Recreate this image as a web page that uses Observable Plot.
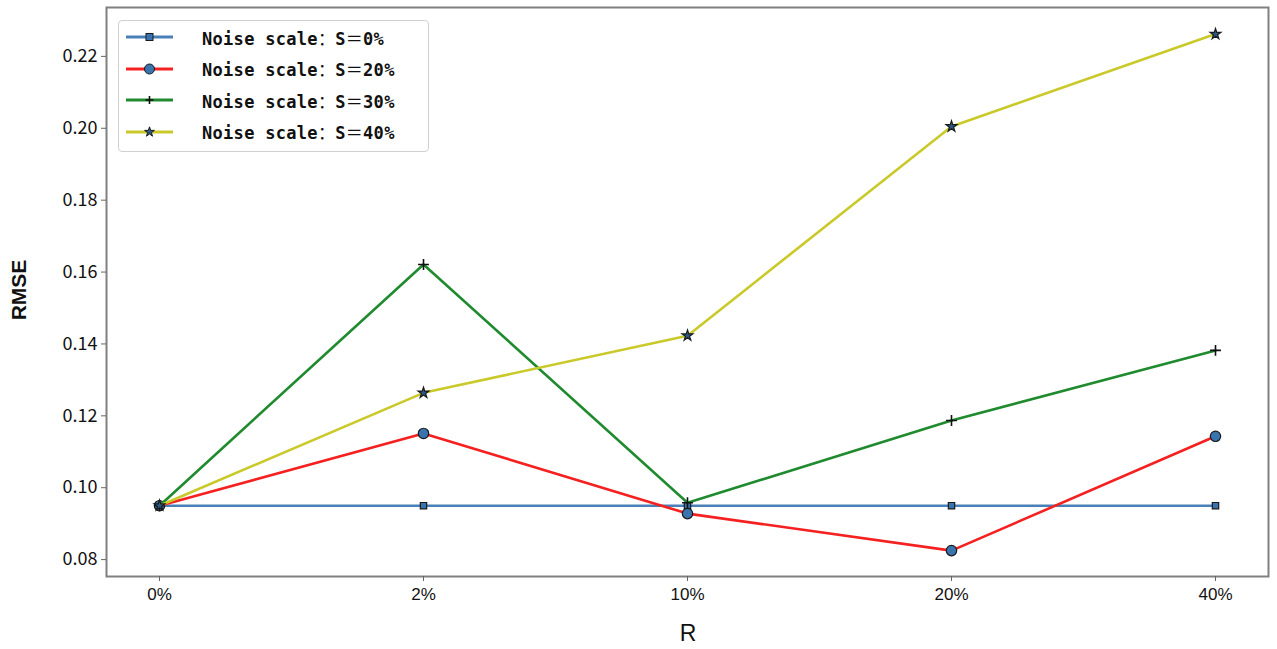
<!DOCTYPE html>
<html>
<head>
<meta charset="utf-8">
<script src="https://cdn.jsdelivr.net/npm/d3@7"></script>
<script src="https://cdn.jsdelivr.net/npm/@observablehq/plot@0.6"></script>
<style>
  html, body { margin: 0; padding: 0; background: #fff; }
  #wrap { position: relative; width: 1277px; height: 649px; }
  #legend { position: absolute; left: 118px; top: 20px; width: 311px; height: 132px;
    border: 1px solid #d0d0d0; border-radius: 4px; background: rgba(255,255,255,0.9); box-sizing: border-box; }
  .item { position: absolute; left: 7px; height: 24px; display: flex; align-items: center; }
  .item > span.txt { font-family: "DejaVu Sans Mono", monospace; font-size: 17px; letter-spacing: 0.3px; font-weight: bold; color: #111; margin-left: 28px; white-space: pre; }
  .item .fw { font-family: "Noto Sans CJK SC", sans-serif; font-weight: normal; margin: 0; }
</style>
</head>
<body>
<div id="wrap"></div>
<script>
const categories = ["0%", "2%", "10%", "20%", "40%"];
const s0  = [0.095, 0.095, 0.095, 0.095, 0.095];
const s20 = [0.095, 0.1151, 0.0928, 0.0825, 0.1143];
const s30 = [0.095, 0.1621, 0.0958, 0.1187, 0.1382];
const s40 = [0.095, 0.1264, 0.1423, 0.2005, 0.2262];
const seriesNames = ["Noise scale：S＝0%", "Noise scale：S＝20%", "Noise scale：S＝30%", "Noise scale：S＝40%"];
const yTicks = [0.08, 0.10, 0.12, 0.14, 0.16, 0.18, 0.20, 0.22];

const seriesValues = [s0, s20, s30, s40];
const colors = ["#4a80b8", "#f52020", "#1f8a2e", "#c9c92a"];
const symbols = ["square", "circle", "plus", "star"];
const markFill = ["#3a74ae", "#3a74ae", "none", "#2a5a8a"];
const markStroke = ["#1a1a1a", "#1a1a1a", "#111", "#1a1a1a"];
const markR = [3.6, 5.2, 3.6, 3.4];

const tables = seriesValues.map((vals, si) => vals.map((v, i) => ({ cat: categories[i], value: v, series: seriesNames[si] })));

const marks = [];
tables.forEach((t, si) => {
  marks.push(Plot.line(t, { x: "cat", y: "value", stroke: colors[si], strokeWidth: 2.6 }));
  marks.push(Plot.dot(t, { x: "cat", y: "value", symbol: () => symbols[si], r: markR[si],
    fill: markFill[si], stroke: markStroke[si], strokeWidth: si === 2 ? 1.6 : 1.2 }));
});

const chart = Plot.plot({
  width: 1277,
  height: 649,
  marginLeft: 106,
  marginRight: 9,
  marginTop: 7,
  marginBottom: 73,
  style: { fontFamily: "'Noto Sans CJK SC', sans-serif", fontSize: "16px", color: "#111", background: "#fff" },
  x: { type: "point", domain: categories, padding: 0.2 },
  y: { domain: [0.0753, 0.2336] },
  marks: [
    ...marks,
    Plot.frame({ stroke: "#808080", strokeWidth: 2 }),
    Plot.axisY({ ticks: yTicks, tickFormat: d3.format(".2f"), tickSize: 5, tickPadding: 4, stroke: "#666",
      label: null, fontSize: 18 }),
    Plot.axisX({ tickSize: 5, tickPadding: 6, stroke: "#666", label: null, fontSize: 17,
      fontFamily: "'Liberation Sans Narrow', 'Liberation Sans', sans-serif" }),
  ]
});

const svg = d3.select(chart.tagName.toLowerCase() === "svg" ? chart : chart.querySelector("svg"));
svg.append("text").attr("x", 688).attr("y", 641).attr("text-anchor", "middle")
  .attr("font-family", "'Liberation Sans Narrow', 'Liberation Sans', sans-serif").attr("font-size", 23).attr("fill", "#111").text("R");
svg.append("text").attr("transform", "translate(26,290) rotate(-90)").attr("text-anchor", "middle")
  .attr("font-family", "'Liberation Sans Narrow', 'Liberation Sans', sans-serif").attr("font-weight", "bold").attr("font-size", 21).attr("fill", "#111").text("RMSE");

const wrap = document.getElementById("wrap");
wrap.appendChild(chart);

const legend = document.createElement("div");
legend.id = "legend";
const lineSym = {
  square: '<rect x="20" y="8.5" width="7" height="7" fill="#3a74ae" stroke="#1a1a1a"/>',
  circle: '<circle cx="23.5" cy="12" r="5" fill="#3a74ae" stroke="#1a1a1a"/>',
  plus: '<path d="M19.5,12H27.5M23.5,8V16" stroke="#111" stroke-width="1.6"/>',
  star: '<path d="' + d3.symbol(d3.symbolStar, 30)() + '" transform="translate(23.5,12)" fill="#2a5a8a" stroke="#1a1a1a"/>'
};
seriesNames.forEach((name, i) => {
  const it = document.createElement("div");
  it.className = "item";
  it.style.top = (4 + i * 31.5) + "px";
  const html = name.replace("：", '<span class="fw">：</span>').replace("＝", '<span class="fw">＝</span>');
  it.innerHTML = '<svg width="48" height="24"><line x1="0" x2="47" y1="12" y2="12" stroke="' + colors[i] + '" stroke-width="3"/>' +
    lineSym[symbols[i]] + '</svg><span class="txt">' + html + '</span>';
  legend.appendChild(it);
});
wrap.appendChild(legend);
</script>
</body>
</html>
